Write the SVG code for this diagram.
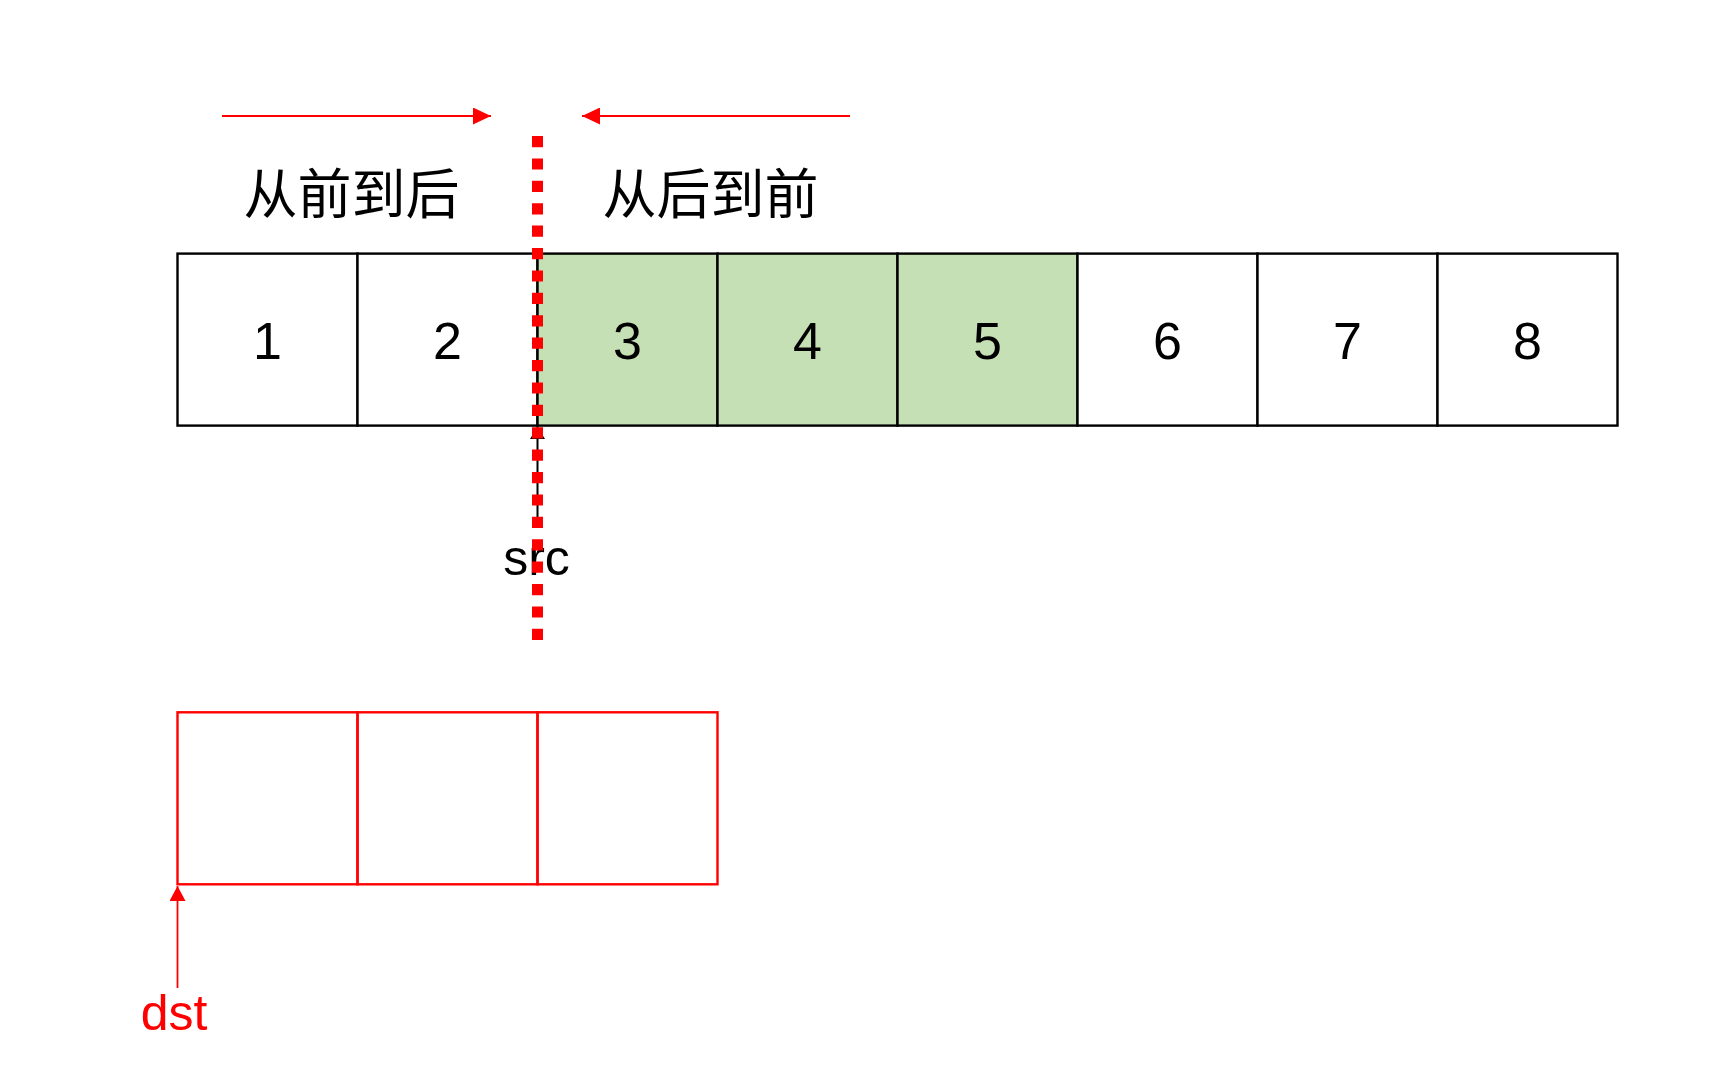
<svg xmlns="http://www.w3.org/2000/svg" width="1729" height="1088" viewBox="0 0 1729 1088">
  <style>
    .cell { fill: #FFFFFF; stroke: #000000; stroke-width: 2.4; }
    .green { fill: #C5E0B4; }
    .dcell { fill: none; stroke: #FF0000; stroke-width: 2.4; }
    .num { font-family: "Liberation Sans", "Noto Sans", sans-serif; font-size: 52px; fill: #000000; text-anchor: middle; }
    .cjk { font-family: "Noto Sans CJK SC", "Noto Sans", sans-serif; font-size: 54px; fill: #000000; text-anchor: middle; }
    .lbl { font-family: "Liberation Sans", "Noto Sans", sans-serif; font-size: 50px; text-anchor: middle; }
    .redline { stroke: #FF0000; stroke-width: 1.8; fill: none; }
    .blackline { stroke: #000000; stroke-width: 2; fill: none; }
  </style>
  <defs>
    <marker id="redHead" markerUnits="userSpaceOnUse" markerWidth="18" markerHeight="17" refX="18" refY="8.5" orient="auto" viewBox="0 0 18 17">
      <path d="M0,0 L18,8.5 L0,17 Z" fill="#FF0000"/>
    </marker>
    <marker id="redHeadSmall" markerUnits="userSpaceOnUse" markerWidth="15" markerHeight="16" refX="15" refY="8" orient="auto" viewBox="0 0 15 16">
      <path d="M0,0 L15,8 L0,16 Z" fill="#FF0000"/>
    </marker>
    <marker id="blackHead" markerUnits="userSpaceOnUse" markerWidth="12" markerHeight="15" refX="12" refY="7.5" orient="auto" viewBox="0 0 12 15">
      <path d="M0,0 L12,7.5 L0,15 Z" fill="#000000"/>
    </marker>
  </defs>
  <rect x="0" y="0" width="1729" height="1088" fill="#FFFFFF"/>

  <g id="label-front-to-back"><text class="cjk" x="351.5" y="214">从前到后</text></g>
  <g id="label-back-to-front"><text class="cjk" x="710.5" y="214">从后到前</text></g>

  <g id="cell-1"><rect class="cell" x="177.5" y="253.6" width="180" height="172"/><text class="num" x="267.5" y="359">1</text></g>
  <g id="cell-2"><rect class="cell" x="357.5" y="253.6" width="180" height="172"/><text class="num" x="447.5" y="359">2</text></g>
  <g id="cell-3"><rect class="cell green" x="537.5" y="253.6" width="180" height="172"/><text class="num" x="627.5" y="359">3</text></g>
  <g id="cell-4"><rect class="cell green" x="717.5" y="253.6" width="180" height="172"/><text class="num" x="807.5" y="359">4</text></g>
  <g id="cell-5"><rect class="cell green" x="897.5" y="253.6" width="180" height="172"/><text class="num" x="987.5" y="359">5</text></g>
  <g id="cell-6"><rect class="cell" x="1077.5" y="253.6" width="180" height="172"/><text class="num" x="1167.5" y="359">6</text></g>
  <g id="cell-7"><rect class="cell" x="1257.5" y="253.6" width="180" height="172"/><text class="num" x="1347.5" y="359">7</text></g>
  <g id="cell-8"><rect class="cell" x="1437.5" y="253.6" width="180" height="172"/><text class="num" x="1527.5" y="359">8</text></g>

  <g id="dst-cell-1"><rect class="dcell" x="177.5" y="712.3" width="180" height="172"/></g>
  <g id="dst-cell-2"><rect class="dcell" x="357.5" y="712.3" width="180" height="172"/></g>
  <g id="dst-cell-3"><rect class="dcell" x="537.5" y="712.3" width="180" height="172"/></g>

  <g id="label-src"><text class="lbl" x="536.5" y="575" fill="#000000">src</text></g>
  <g id="label-dst"><text class="lbl" x="174" y="1030" fill="#FF0000">dst</text></g>

  <g id="connectors">
    <line class="redline" x1="222" y1="116" x2="491" y2="116" marker-end="url(#redHead)"/>
    <line class="redline" x1="850" y1="116" x2="582" y2="116" marker-end="url(#redHead)"/>
    <line class="blackline" x1="537.5" y1="528" x2="537.5" y2="427" marker-end="url(#blackHead)"/>
    <line class="redline" x1="177.5" y1="988" x2="177.5" y2="886" marker-end="url(#redHeadSmall)"/>
    <line id="divider" x1="537.5" y1="136" x2="537.5" y2="640" stroke="#FF0000" stroke-width="11" stroke-dasharray="11.2 11.2"/>
  </g>
</svg>
